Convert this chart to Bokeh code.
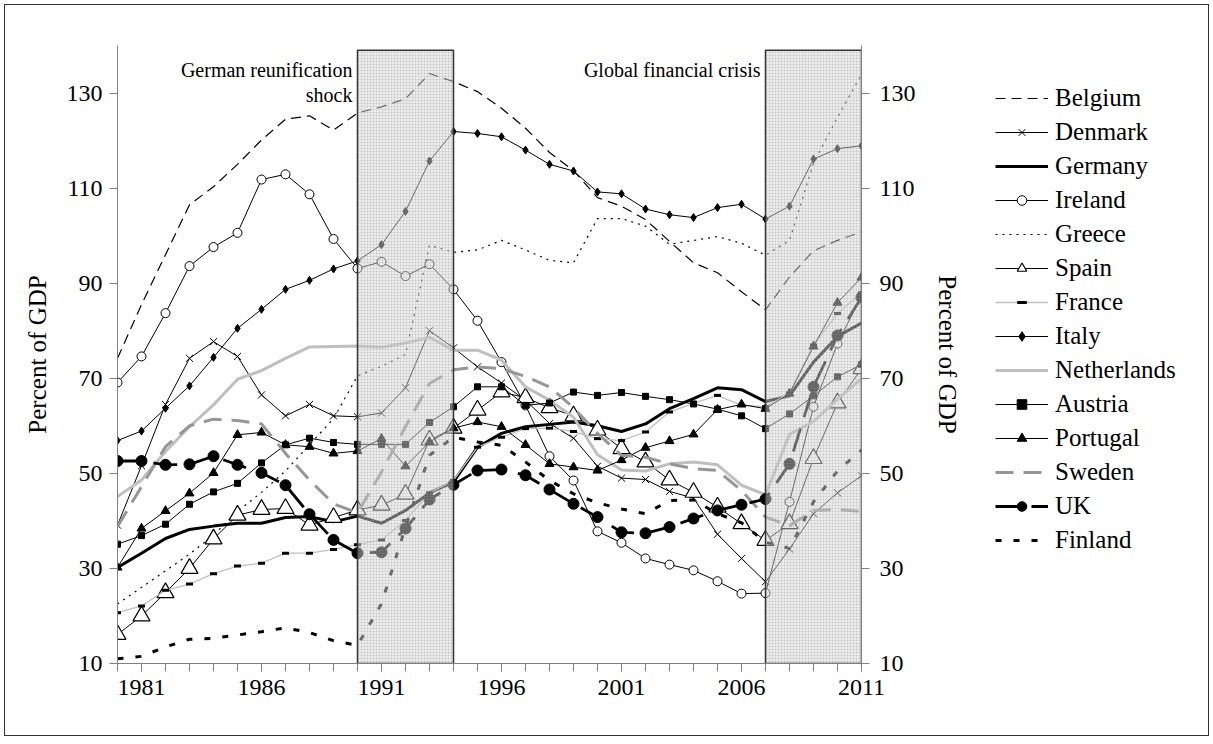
from bokeh.plotting import figure
from bokeh.models import Range1d, LinearAxis, FixedTicker, Legend, LegendItem, Label
from bokeh.layouts import row
from bokeh.embed import file_html
from bokeh.resources import INLINE

years = list(range(1980, 2012))
x_labels = [1981, 1986, 1991, 1996, 2001, 2006, 2011]
y_ticks = [10, 30, 50, 70, 90, 110, 130]

belgium = [74.2, 85.5, 96.0, 106.5, 110.3, 115.0, 120.1, 124.5, 125.2, 122.2,
           125.8, 127.1, 128.8, 134.1, 132.4, 130.3, 126.8, 122.6, 117.5, 113.7,
           108.0, 106.2, 103.4, 98.8, 94.3, 92.2, 88.2, 84.4, 91.3, 96.8,
           99.0, 100.8]
denmark = [39.1, 51.6, 64.5, 74.2, 77.7, 74.6, 66.5, 62.1, 64.5, 62.1,
           61.9, 62.7, 68.0, 80.0, 76.4, 72.4, 69.0, 65.4, 60.5, 57.4,
           51.5, 49.0, 48.7, 46.2, 44.8, 37.2, 32.1, 27.2, 34.1, 41.5,
           45.9, 49.5]
germany = [30.2, 33.2, 36.3, 38.2, 38.9, 39.5, 39.5, 40.7, 40.9, 39.8,
           41.0, 39.5, 42.2, 45.9, 48.2, 55.5, 58.4, 59.8, 60.3, 60.8,
           60.0, 58.8, 60.4, 63.6, 65.7, 68.0, 67.6, 65.1, 66.3, 73.4,
           78.8, 81.6]
ireland = [69.1, 74.6, 83.7, 93.6, 97.6, 100.6, 111.8, 112.9, 108.7, 99.3,
           93.1, 94.5, 91.5, 94.0, 88.7, 82.1, 73.4, 64.3, 53.6, 48.5,
           37.8, 35.4, 32.1, 30.8, 29.6, 27.3, 24.7, 24.8, 44.0, 64.0,
           77.3, 87.3]
greece = [22.5, 26.0, 29.5, 33.0, 37.0, 42.0, 46.0, 50.5, 56.0, 61.5,
          70.5, 72.5, 75.0, 98.0, 96.5, 97.0, 99.0, 97.0, 94.8, 94.3,
          103.6, 103.6, 102.0, 98.2, 99.0, 99.8, 98.4, 95.9, 99.0, 115.2,
          124.9, 133.9]
spain = [16.1, 20.0, 24.9, 30.0, 36.2, 41.2, 42.4, 42.6, 39.1, 40.7,
         42.3, 43.3, 45.6, 57.0, 59.5, 63.3, 67.1, 65.9, 63.8, 62.1,
         59.1, 55.2, 52.4, 48.6, 46.0, 42.9, 39.4, 35.9, 39.4, 53.1,
         64.8, 72.0]
france = [20.7, 22.1, 25.4, 26.7, 28.9, 30.5, 31.1, 33.2, 33.2, 34.0,
          35.0, 36.0, 40.1, 45.9, 48.5, 55.5, 57.6, 59.4, 59.5, 58.8,
          57.3, 56.9, 58.7, 62.9, 64.7, 66.4, 64.3, 64.0, 66.9, 77.0,
          83.6, 88.0]
italy = [56.9, 58.9, 63.7, 68.4, 74.4, 80.5, 84.5, 88.7, 90.6, 93.0,
         94.7, 98.1, 105.1, 115.7, 121.9, 121.5, 120.8, 118.0, 115.0, 113.6,
         109.2, 108.8, 105.6, 104.4, 103.8, 105.9, 106.6, 103.5, 106.2, 116.1,
         118.3, 118.9]
netherlands = [45.1, 48.6, 54.6, 59.8, 64.4, 69.8, 71.6, 74.2, 76.6, 76.7,
               76.8, 76.5, 77.4, 78.6, 75.9, 75.9, 73.8, 68.2, 65.4, 61.8,
               53.9, 50.7, 50.5, 52.0, 52.4, 51.8, 47.5, 45.5, 58.2, 60.9,
               65.6, 69.9]
austria = [35.1, 36.9, 39.3, 43.5, 46.1, 47.9, 52.2, 56.0, 57.4, 56.5,
           56.1, 56.1, 56.1, 60.7, 64.0, 68.2, 68.2, 64.3, 64.8, 67.1,
           66.4, 67.0, 66.2, 65.5, 64.6, 63.5, 62.1, 59.4, 62.5, 66.3,
           70.3, 72.9]
portugal = [30.2, 38.4, 42.1, 45.8, 50.1, 58.1, 58.6, 56.0, 55.6, 54.2,
            54.7, 57.3, 51.5, 56.6, 59.5, 60.8, 59.8, 56.0, 52.0, 51.3,
            50.6, 52.8, 55.4, 56.8, 58.2, 63.4, 64.5, 63.6, 66.8, 76.7,
            85.9, 91.2]
sweden = [38.8, 47.2, 55.6, 60.0, 61.4, 61.1, 60.4, 54.2, 48.6, 43.6,
          41.7, 50.3, 59.8, 68.9, 71.8, 72.4, 72.0, 70.4, 68.2, 63.8,
          58.4, 53.8, 53.4, 52.0, 51.0, 50.6, 46.4, 40.8, 39.0, 42.2,
          42.4, 42.0]
uk = [52.6, 52.6, 51.8, 51.9, 53.6, 51.8, 50.1, 47.5, 41.4, 36.0,
      33.2, 33.4, 38.4, 44.5, 47.6, 50.6, 50.8, 49.6, 46.6, 43.6,
      40.8, 37.6, 37.4, 38.7, 40.5, 42.2, 43.4, 44.6, 52.0, 68.2,
      79.0, 87.0]
finland = [11.0, 11.5, 13.5, 15.1, 15.3, 16.0, 16.7, 17.5, 16.5, 14.8,
           13.8, 22.6, 38.7, 53.8, 57.6, 56.6, 55.9, 52.4, 48.5, 45.7,
           43.8, 42.5, 41.5, 44.3, 44.4, 41.5, 39.6, 35.5, 34.2, 44.0,
           50.5, 54.9]

shock_names = ["German reunification\nshock", "Global financial crisis"]
shock_start = [1990, 2007]
shock_end = [1994, 2011]
shock_top = [139, 139]

FONT = "Liberation Serif"

p = figure(width=970, height=730, x_range=Range1d(1980, 2011), y_range=Range1d(10, 140),
           output_backend="svg", toolbar_location=None,
           min_border_left=112, min_border_right=114, min_border_top=40, min_border_bottom=72)
p.xgrid.visible = False
p.ygrid.visible = False
p.outline_line_color = None
p.background_fill_color = "white"
p.border_fill_color = "white"

AX = "#808080"

xa = p.xaxis[0]
xa.ticker = FixedTicker(ticks=x_labels, minor_ticks=years)
xa.axis_line_color = AX
xa.major_tick_line_color = AX
xa.minor_tick_line_color = AX
xa.major_tick_out = 8
xa.major_tick_in = 0
xa.minor_tick_out = 8
xa.minor_tick_in = 0
xa.major_label_standoff = 8
xa.major_label_text_font = FONT
xa.major_label_text_font_size = "24px"
xa.major_label_text_color = "black"

def style_y(ax):
    ax.ticker = FixedTicker(ticks=y_ticks)
    ax.axis_line_color = AX
    ax.major_tick_line_color = AX
    ax.minor_tick_line_color = None
    ax.major_tick_out = 8
    ax.major_tick_in = 0
    ax.major_label_text_font = FONT
    ax.major_label_text_font_size = "24px"
    ax.major_label_text_color = "black"
    ax.axis_label = "Percent of GDP"
    ax.axis_label_text_font = FONT
    ax.axis_label_text_font_size = "25px"
    ax.axis_label_text_font_style = "normal"
    ax.axis_label_text_color = "black"

ly = p.yaxis[0]
style_y(ly)
ly.major_label_standoff = 7
ly.axis_label_standoff = 13

ry = LinearAxis()
style_y(ry)
ry.major_label_standoff = 10
ry.axis_label_standoff = 15
p.add_layout(ry, "right")

# (name, values, line style, marker style)
series = [
    ("Belgium", belgium, dict(color="black", width=1.2, dash="10 6"), None),
    ("Denmark", denmark, dict(color="black", width=1, dash="solid"),
     dict(marker="x", size=10, lsize=8, fill="black", line="black", lw=1)),
    ("Germany", germany, dict(color="black", width=3, dash="solid"), None),
    ("Ireland", ireland, dict(color="black", width=1, dash="solid"),
     dict(marker="circle", size=9, lsize=7, fill="white", line="black", lw=1)),
    ("Greece", greece, dict(color="black", width=1.2, dash="2 5"), None),
    ("Spain", spain, dict(color="black", width=1, dash="solid"),
     dict(marker="triangle", size=17, lsize=13, fill="white", line="black", lw=1.2)),
    ("France", france, dict(color="#c0c0c0", width=1.3, dash="solid"),
     dict(marker="dash", size=7, lsize=7, fill="black", line="black", lw=3)),
    ("Italy", italy, dict(color="black", width=1, dash="solid"),
     dict(marker="diamond", size=8, lsize=6, fill="black", line="black", lw=1)),
    ("Netherlands", netherlands, dict(color="#bfbfbf", width=3, dash="solid"), None),
    ("Austria", austria, dict(color="black", width=1, dash="solid"),
     dict(marker="square", size=6, lsize=6, fill="black", line="black", lw=1)),
    ("Portugal", portugal, dict(color="black", width=1, dash="solid"),
     dict(marker="triangle", size=9, lsize=8, fill="black", line="black", lw=1)),
    ("Sweden", sweden, dict(color="#969696", width=3, dash="18 10"), None),
    ("UK", uk, dict(color="black", width=2.8, dash="24 12"),
     dict(marker="circle", size=11, lsize=10, fill="black", line="black", lw=1)),
    ("Finland", finland, dict(color="black", width=3, dash="6 12"), None),
]

# legend panel: a second figure holding the legend only (its ranges exclude the data,
# so its renderers only feed the legend)
lg = figure(width=233, height=730, x_range=Range1d(0, 1), y_range=Range1d(0, 1),
            output_backend="svg", toolbar_location=None,
            x_axis_type=None, y_axis_type=None,
            min_border_left=0, min_border_right=0, min_border_top=40, min_border_bottom=72)
lg.xgrid.visible = False
lg.ygrid.visible = False
lg.outline_line_color = None
lg.background_fill_color = "white"
lg.border_fill_color = "white"

items = []
for name, vals, ls, ms in series:
    p.line(years, vals, line_color=ls["color"], line_width=ls["width"], line_dash=ls["dash"])
    rs = [lg.line(years, vals, line_color=ls["color"], line_width=ls["width"], line_dash=ls["dash"])]
    if ms is not None:
        p.scatter(years, vals, marker=ms["marker"], size=ms["size"], fill_color=ms["fill"],
                  line_color=ms["line"], line_width=ms["lw"])
        rs.append(lg.scatter(years, vals, marker=ms["marker"], size=ms["lsize"],
                             fill_color=ms["fill"], line_color=ms["line"], line_width=ms["lw"]))
    items.append(LegendItem(label=name, renderers=rs))

p.quad(left=shock_start, right=shock_end, bottom=[10, 10], top=shock_top,
       fill_color="#d6d6d6", fill_alpha=0.45,
       hatch_pattern="cross", hatch_scale=3, hatch_weight=0.5, hatch_color="#9a9a9a", hatch_alpha=0.45,
       line_color="#333333", line_width=1.5)

for name, xs in zip(shock_names, shock_start):
    lines = name.split("\n")
    for i, t in enumerate(lines):
        p.add_layout(Label(x=xs, y=134.8 - i * 5.2, x_offset=-5, text=t, text_align="right",
                           text_baseline="alphabetic", text_font=FONT, text_font_size="20px",
                           text_color="black"))

legend = Legend(items=items, location=(20, 109), orientation="vertical",
                label_text_font=FONT, label_text_font_size="25px", label_text_color="black",
                glyph_width=53, glyph_height=24, label_height=24, label_standoff=7,
                spacing=6, padding=0, margin=0,
                border_line_color=None, background_fill_alpha=0)
lg.add_layout(legend)

layout = row(p, lg)
layout.styles = {"border": "1px solid #333333", "margin": "4px"}

open("out.html", "w").write(file_html(layout, INLINE))
